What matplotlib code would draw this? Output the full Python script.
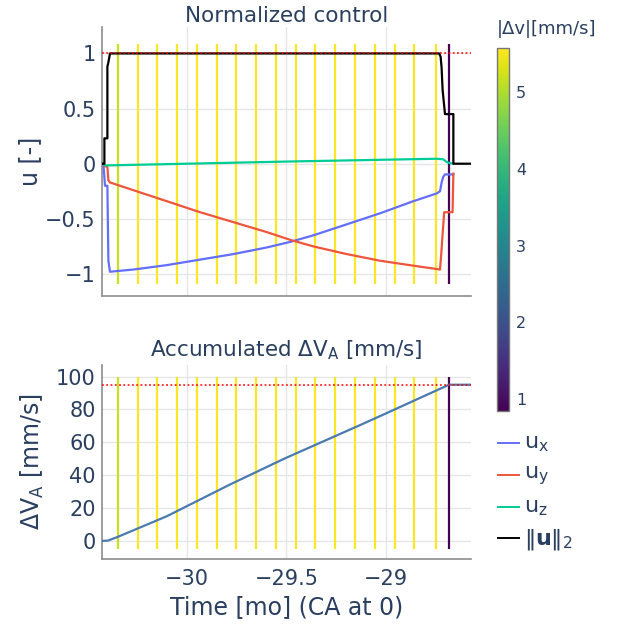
import numpy as np
import matplotlib
matplotlib.use("Agg")
import matplotlib.pyplot as plt
from matplotlib.colors import Normalize
from matplotlib.cm import ScalarMappable
from matplotlib.lines import Line2D

# ---------------- data ----------------
# control components, time in months (CA at 0)
ux_t = [-30.425, -30.418, -30.410, -30.398, -30.393, -30.385, -30.268, -30.100,
        -29.933, -29.766, -29.599, -29.482, -29.365, -29.197, -29.030, -28.863,
        -28.746, -28.729, -28.721, -28.713, -28.704, -28.662]
ux_v = [0.0, 0.0, -0.20, -0.20, -0.88, -0.98, -0.96, -0.92,
        -0.87, -0.82, -0.76, -0.71, -0.65, -0.55, -0.45, -0.34,
        -0.27, -0.25, -0.17, -0.12, -0.097, -0.097]

uy_t = [-30.425, -30.418, -30.413, -30.398, -30.393, -30.385, -30.268, -30.100,
        -29.933, -29.766, -29.599, -29.482, -29.365, -29.197, -29.030, -28.863,
        -28.746, -28.729, -28.724, -28.716, -28.708, -28.666, -28.662]
uy_v = [0.0, 0.0, -0.02, -0.03, -0.15, -0.17, -0.24, -0.34,
        -0.44, -0.53, -0.62, -0.69, -0.75, -0.82, -0.88, -0.925,
        -0.955, -0.96, -0.85, -0.64, -0.44, -0.44, -0.09]

uz_t = [-30.425, -30.418, -30.410, -30.385, -29.482, -28.746, -28.713, -28.695,
        -28.679, -28.662]
uz_v = [0.0, 0.0, -0.015, -0.015, 0.02, 0.045, 0.04, 0.015,
        0.005, 0.0]

un_t = [-30.425, -30.413, -30.413, -30.398, -30.398, -30.393, -30.385, -28.733,
        -28.726, -28.721, -28.716, -28.704, -28.662, -28.662, -28.575]
un_v = [0.0, 0.0, 0.23, 0.23, 0.88, 0.92, 1.0, 1.0,
        0.97, 0.87, 0.67, 0.45, 0.45, 0.0, 0.0]

# accumulated delta-v [mm/s]
dva_t = [-30.425, -30.395, -30.351, -30.100, -29.783, -29.502, -29.131, -29.001,
         -28.684, -28.575]
dva_v = [0.0, 0.2, 2.2, 15.0, 34.3, 50.5, 70.4, 77.5, 95.0, 95.0]

# equivalent impulses: epoch [mo] and |dv| [mm/s]
imp_t = [-30.346, -30.246, -30.147, -30.048, -29.949, -29.850, -29.751, -29.651,
         -29.552, -29.453, -29.354, -29.255, -29.156, -29.056, -28.957, -28.858,
         -28.751, -28.684]
imp_dv = [5.2, 5.58, 5.58, 5.58, 5.58, 5.58, 5.58, 5.58,
          5.58, 5.58, 5.58, 5.58, 5.58, 5.58, 5.58, 5.58,
          5.58, 0.84]

u_max = 1.0
dv_total = 95.0

x_ticks = [-30, -29.5, -29]
x_ticklabels = ["\u221230", "\u221229.5", "\u221229"]
u_ticks = [-1, -0.5, 0, 0.5, 1]
u_ticklabels = ["\u22121", "\u22120.5", "0", "0.5", "1"]
dv_ticks = [0, 20, 40, 60, 80, 100]
cb_ticks = [1, 2, 3, 4, 5]

# ---------------- style ----------------
TXT = "#2a3f5f"
GRID = "#e6e6e6"
SPINE = "#8c8c8c"
C_UX, C_UY, C_UZ, C_UN = "#636EFA", "#EF553B", "#00CC96", "black"
C_DV = "#4a7ab0"

W, H = 621, 624
fig = plt.figure(figsize=(W / 100, H / 100), dpi=100)
fx = lambda px: px / W
fy = lambda py: 1 - py / H

ax1 = fig.add_axes([fx(102), fy(296), (470.7 - 102) / W, (296 - 27) / H])
ax2 = fig.add_axes([fx(102), fy(559), (470.7 - 102) / W, (559 - 365) / H])

norm = Normalize(vmin=min(imp_dv), vmax=max(imp_dv))
cmap = plt.get_cmap("viridis")
imp_colors = [cmap(norm(v)) for v in imp_dv]

# top: normalized control
ax1.vlines(imp_t, -1.09, 1.09, colors=imp_colors, linewidth=1.6, zorder=2)
ax1.plot(ux_t, ux_v, color=C_UX, lw=1.6, zorder=3)
ax1.plot(uy_t, uy_v, color=C_UY, lw=1.6, zorder=3)
ax1.plot(uz_t, uz_v, color=C_UZ, lw=1.6, zorder=3)
ax1.plot(un_t, un_v, color=C_UN, lw=1.6, zorder=3)
ax1.axhline(u_max, color="red", lw=1.1, ls=(0, (1.2, 1.6)), zorder=4)
ax1.set_ylim(-1.2, 1.24)
ax1.set_yticks(u_ticks)
ax1.set_yticklabels(u_ticklabels)
ax1.set_ylabel("u [-]", fontsize=17, color=TXT)
ax1.yaxis.set_label_coords(-0.195, 0.5)
ax1.yaxis.label.set_va("center")

# bottom: accumulated dv
ax2.vlines(imp_t, -5, 100, colors=imp_colors, linewidth=1.6, zorder=2)
ax2.plot(dva_t, dva_v, color=C_DV, lw=1.6, zorder=3)
ax2.axhline(dv_total, color="red", lw=1.1, ls=(0, (1.2, 1.6)), zorder=4)
ax2.set_ylim(-11, 107)
ax2.set_yticks(dv_ticks)
ax2.set_ylabel("\u0394V$_\\mathregular{A}$ [mm/s]", fontsize=17, color=TXT)
ax2.yaxis.set_label_coords(-0.19, 0.5)
ax2.yaxis.label.set_va("center")
ax2.set_xlabel("Time [mo] (CA at 0)", fontsize=17, color=TXT)
ax2.xaxis.set_label_coords(0.5, -0.247)
ax2.xaxis.label.set_va("center")

for ax in (ax1, ax2):
    ax.set_xlim(min(un_t), max(un_t))
    ax.set_xticks(x_ticks)
    ax.set_xticklabels(x_ticklabels if ax is ax2 else [])
    ax.grid(True, color=GRID, lw=1.0, zorder=0)
    ax.set_axisbelow(True)
    for s in ("top", "right"):
        ax.spines[s].set_visible(False)
    for s in ("left", "bottom"):
        ax.spines[s].set_color(SPINE)
        ax.spines[s].set_linewidth(1.2)
    ax.tick_params(axis="both", length=0, labelsize=15, labelcolor=TXT)
    ax.tick_params(axis="y", pad=4.5)
    ax.tick_params(axis="x", pad=7)

ax1.text(0.5, 1.0197, "Normalized control", transform=ax1.transAxes,
         ha="center", va="baseline", fontsize=15.5, color=TXT)
ax2.text(0.5, 1.046, "Accumulated \u0394V$_\\mathregular{A}$ [mm/s]", transform=ax2.transAxes,
         ha="center", va="baseline", fontsize=15.5, color=TXT)

# colorbar
cax = fig.add_axes([fx(496.7), fy(411), (509.3 - 496.7) / W, (411 - 48) / H])
sm = ScalarMappable(norm=norm, cmap=cmap)
cb = fig.colorbar(sm, cax=cax)
cb.set_ticks(cb_ticks)
cb.outline.set_edgecolor("#777777")
cb.outline.set_linewidth(1.0)
cax.tick_params(length=0, labelsize=11.5, labelcolor=TXT, pad=5)
fig.text(fx(497), fy(29), "|\u0394v|[mm/s]", ha="left", va="center", fontsize=13, color=TXT)

# legend
leg_items = [(C_UX, "$\\mathregular{u_x}$", 442.7),
             (C_UY, "$\\mathregular{u_y}$", 475.0),
             (C_UZ, "$\\mathregular{u_z}$", 507.3),
             (C_UN, "\u2016$\\mathbf{u}$\u2016$_\\mathregular{2}$", 538.3)]
for col, lab, ypx in leg_items:
    fig.add_artist(Line2D([fx(498), fx(519)], [fy(ypx), fy(ypx)], color=col, lw=1.4,
                          transform=fig.transFigure))
    fig.text(fx(524), fy(ypx + 1), lab, ha="left", va="center", fontsize=16, color=TXT)

fig.savefig("out.png", dpi=100, facecolor="white")
